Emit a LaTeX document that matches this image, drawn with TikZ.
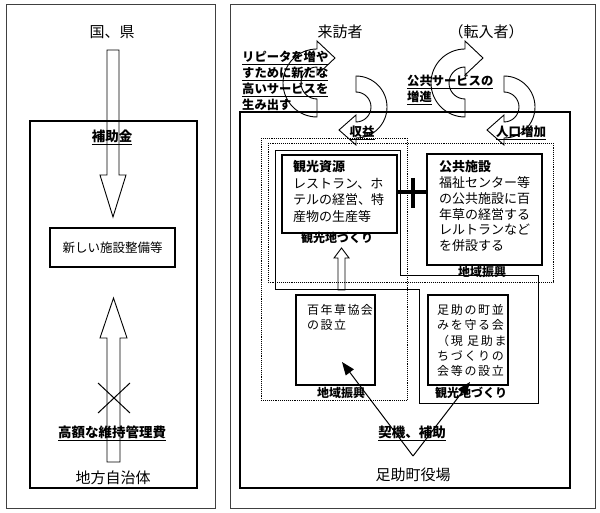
\documentclass[tikz,border=0pt]{standalone}
\usepackage{fontspec}
\setmainfont{Noto Sans CJK JP}
\usetikzlibrary{arrows.meta,calc}
\newcommand\fsz[2]{\fontsize{#1}{#2}\selectfont}
% left-half block arc arrow (tail at bottom, head at top pointing right)
\newcommand\ArcArrowL[2]{%
  \draw[blockarrow] (#1,#2+34) arc[start angle=90,end angle=270,radius=34]
    -- (#1,#2-42) -- (#1+18,#2-25) -- (#1,#2-8) -- (#1,#2-16)
    arc[start angle=270,end angle=90,radius=16] -- cycle;}
% right-half block arc arrow (tail at top, head at bottom pointing left)
\newcommand\ArcArrowR[2]{%
  \draw[blockarrow] (#1,#2-31) arc[start angle=270,end angle=450,radius=31]
    -- (#1,#2+38) -- (#1-17,#2+23) -- (#1,#2+8) -- (#1,#2+15)
    arc[start angle=450,end angle=270,radius=15] -- cycle;}
\begin{document}
\begin{tikzpicture}[x=1pt,y=-1pt,
  panel/.style={draw=black!75, line width=0.9pt},
  frame/.style={draw, line width=1.3pt},
  box/.style={draw, line width=1.1pt, inner sep=0pt},
  thickbox/.style={draw, line width=1.5pt, inner sep=0pt},
  dotreg/.style={draw, densely dotted, line width=0.9pt},
  solidreg/.style={draw, line width=0.9pt},
  blockarrow/.style={draw, line width=0.9pt},
  lbl/.style={inner sep=0pt, font=\fsz{15}{18}},
  ullbl/.style={inner sep=0pt, font=\bfseries\fsz{13.5}{16}},
  reglbl/.style={inner sep=0pt, font=\bfseries\fsz{12}{14}},
  txt/.style={inner sep=0pt, align=left, anchor=north west},
  ptr/.style={-{Triangle[length=13pt,width=10pt]}, line width=1pt},
]
\useasboundingbox (0,0) rectangle (600,513);
\fill[white] (0,0) rectangle (600,513);

% ---------------- left panel ----------------
\draw[panel] (6,4) rectangle (215,508);
\draw[frame] (30,121) rectangle (197,488);
\node[lbl] (kuni) at (112,32) {国、県};
% down block arrow
\draw[blockarrow] (107,50) -- (119,50) -- (119,175) -- (126,175) -- (113,217)
  -- (100,175) -- (107,175) -- cycle;
\node[ullbl] (hojo) at (112,137) {\underline{補助金}};
\node[box, minimum width=125pt, minimum height=39pt, font=\fsz{12.5}{15}]
  (shisetsu) at (112.5,247.5) {新しい施設整備等};
% up block arrow
\draw[blockarrow] (107,462) -- (120,462) -- (120,338) -- (127,338) -- (113.5,298)
  -- (100,338) -- (107,338) -- cycle;
\draw[line width=1pt] (98,383) -- (130,413);
\draw[line width=1pt] (130,383) -- (98,413);
\node[ullbl] (kogaku) at (112,433) {\underline{高額な維持管理費}};
\node[lbl] (chiho) at (113,478) {地方自治体};

% ---------------- right panel ----------------
\draw[panel] (230,4) rectangle (595,508);
\draw[frame] (240,112) rectangle (570,488);
\node[lbl] (raiho) at (340,32) {来訪者};
\node[lbl] (tennyu) at (486,32) {（転入者）};

% regions
\draw[dotreg] (261,138) rectangle (407,400);
\draw[dotreg] (268,143) rectangle (553,282);
\draw[solidreg] (275,150) -- (400,150) -- (400,275) -- (538,275) -- (538,403)
  -- (419,403) -- (419,289) -- (275,289) -- cycle;

% curved block arrows
\ArcArrowL{317}{83}
\ArcArrowR{356}{107}
\ArcArrowL{465}{83}
\ArcArrowR{504}{107}

\node[txt, font=\bfseries\fsz{12.3}{15.8}] (repeat) at (242,51)
  {\underline{リピータを増や}\\\underline{すために新たな}\\\underline{高いサービスを}\\\underline{生み出す}};
\node[txt, font=\bfseries\fsz{12.3}{15.5}] (koukyoserv) at (407,75)
  {\underline{公共サービスの}\\\underline{増進}};
\node[inner sep=0pt, font=\bfseries\fsz{12.5}{15}] (shueki) at (362,133) {\underline{収益}};
\node[inner sep=0pt, font=\bfseries\fsz{12.5}{15}] (jinko) at (521,133) {\underline{人口増加}};

% boxes
\node[thickbox, minimum width=115pt, minimum height=78pt] (kanko) at (339.5,194) {};
\node[txt, font=\fsz{13}{16.8}] (kankotxt) at (293,160)
  {\textbf{観光資源}\\レストラン、ホ\\テルの経営、特\\産物の生産等};
\node[box, minimum width=115pt, minimum height=111pt] (kokyo) at (484.5,209.5) {};
\node[txt, font=\fsz{13}{15.9}] (kokyotxt) at (439,160)
  {\textbf{公共施設}\\福祉センター等\\の公共施設に百\\年草の経営する\\レルトランなど\\を併設する};
\node[box, minimum width=79pt, minimum height=90pt] (hyaku) at (335.5,340) {};
\node[txt, font=\fsz{12}{15.4}\addfontfeature{LetterSpace=12}] (hyakutxt) at (307,304)
  {百年草協会\\の設立};
\node[box, minimum width=80pt, minimum height=90pt] (machi) at (468,340) {};
\node[txt, font=\fsz{12}{15.4}\addfontfeature{LetterSpace=14}] (machitxt) at (437,304)
  {足助の町並\\みを守る会\\（現 足助ま\\ちづくりの\\会等の設立};

% thick link between kanko and kokyo
\draw[line width=3.5pt] ($(kanko.east)+(0,-2)$) -- ($(kanko.east -| kokyo.west)+(0,-2)$);
\draw[line width=3.5pt] ($(kanko.east)+(15,-16)$) -- ($(kanko.east)+(15,14)$);

% small up block arrow
\draw[blockarrow] (338,290) -- (345,290) -- (345,258) -- (349,258) -- (341.5,248)
  -- (334,258) -- (338,258) -- cycle;

% region labels
\node[reglbl] (kankochi1) at (337,238) {観光地づくり};
\node[reglbl] (chiiki1) at (482,272) {地域振興};
\node[reglbl] (chiiki2) at (341,393) {地域振興};
\node[reglbl] (kankochi2) at (471,393) {観光地づくり};

% bottom
\node[ullbl] (keiki) at (412,433) {\underline{契機、補助}};
\node[lbl] (yakuba) at (413,475) {足助町役場};
\coordinate (vtx) at (413,456);
\coordinate (tipL) at ($(hyaku.center)+(6.5,22)$);
\coordinate (tipR) at ($(machi.center)+(2,42)$);
\draw[ptr] (vtx) -- (tipL);
\draw[ptr] (vtx) -- (tipR);
\end{tikzpicture}
\end{document}
